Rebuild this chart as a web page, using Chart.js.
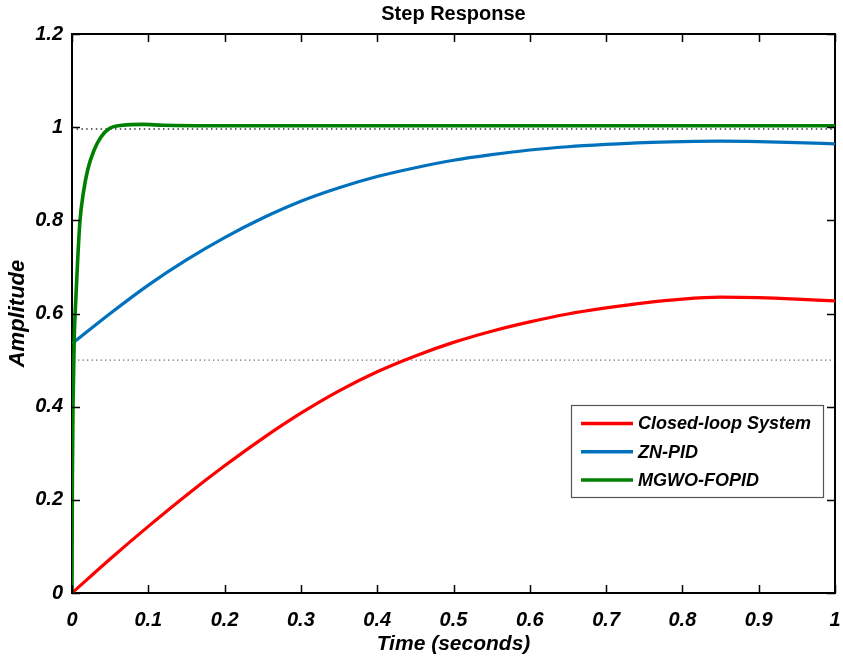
<!DOCTYPE html>
<html>
<head>
<meta charset="utf-8">
<title>Step Response</title>
<script src="https://cdn.jsdelivr.net/npm/chart.js@4.4.1/dist/chart.umd.min.js"></script>
<style>
  html, body { margin: 0; padding: 0; background: #ffffff; }
  #wrap { width: 843px; height: 659px; }
</style>
</head>
<body>
<div id="wrap"><canvas id="chart" width="843" height="659"></canvas></div>
<script>
// ---- data -------------------------------------------------------------
const seriesNames = ['Closed-loop System', 'ZN-PID', 'MGWO-FOPID'];

// Closed-loop system (no controller)
const tClosed = [0, 0.05, 0.1, 0.15, 0.2, 0.25, 0.3, 0.35, 0.4, 0.45, 0.5, 0.55, 0.6, 0.65, 0.7, 0.75, 0.8, 0.85, 0.9, 0.95, 1.0];
const yClosed = [0, 0.073, 0.143, 0.210, 0.273, 0.332, 0.386, 0.434, 0.475, 0.509, 0.538, 0.562, 0.582, 0.599, 0.612, 0.623, 0.631, 0.635, 0.634, 0.631, 0.627];

// Ziegler-Nichols PID
const tZN = [0, 0.05, 0.1, 0.15, 0.2, 0.25, 0.3, 0.35, 0.4, 0.45, 0.5, 0.55, 0.6, 0.65, 0.7, 0.75, 0.8, 0.85, 0.9, 0.95, 1.0];
const yZN = [0.535, 0.600, 0.661, 0.715, 0.763, 0.805, 0.841, 0.870, 0.894, 0.913, 0.929, 0.941, 0.951, 0.958, 0.963, 0.967, 0.969, 0.970, 0.969, 0.967, 0.964];

// MGWO-tuned fractional-order PID
const tFOPID = [0, 0.0005, 0.0015, 0.003, 0.0043, 0.0074, 0.0105, 0.0148, 0.0205, 0.029, 0.038, 0.049, 0.066, 0.093, 0.12, 0.2, 0.5, 1.0];
const yFOPID = [0, 0.25, 0.42, 0.55, 0.607, 0.714, 0.800, 0.858, 0.908, 0.951, 0.979, 0.997, 1.004, 1.006, 1.004, 1.003, 1.003, 1.003];

// dotted reference lines (final value and 50 % level)
const refFinalT = [0.006, 1.0];
const refFinalY = [0.996, 0.996];
const refHalfT = [0.008, 1.0];
const refHalfY = [0.5, 0.5];

// axis ticks
const xTicks = [0, 0.1, 0.2, 0.3, 0.4, 0.5, 0.6, 0.7, 0.8, 0.9, 1];
const xTickLabels = ['0', '0.1', '0.2', '0.3', '0.4', '0.5', '0.6', '0.7', '0.8', '0.9', '1'];
const yTicks = [0, 0.2, 0.4, 0.6, 0.8, 1, 1.2];
const yTickLabels = ['0', '0.2', '0.4', '0.6', '0.8', '1', '1.2'];

const seriesColors = ['#ff0000', '#0072bd', '#008000'];

// ---- helpers -------------------------------------------------------------
const FONT = "'Liberation Sans', Arial, sans-serif";
const toPoints = (ts, ys) => ts.map((t, i) => ({ x: t, y: ys[i] }));
const noPad = s => { s.paddingLeft = 0; s.paddingRight = 0; s.paddingTop = 0; s.paddingBottom = 0; };

// inward tick marks on all four sides of the box
const innerTicks = {
  id: 'innerTicks',
  afterDatasetsDraw(chart) {
    const { ctx, chartArea: a, scales: { x, y } } = chart;
    const len = 8;
    ctx.save();
    ctx.strokeStyle = '#000';
    ctx.lineWidth = 1.5;
    ctx.beginPath();
    xTicks.forEach(v => {
      const px = Math.round(x.getPixelForValue(v)) + 0.5;
      ctx.moveTo(px, a.bottom); ctx.lineTo(px, a.bottom - len);
      ctx.moveTo(px, a.top); ctx.lineTo(px, a.top + len);
    });
    yTicks.forEach(v => {
      const py = Math.round(y.getPixelForValue(v)) + 0.5;
      ctx.moveTo(a.left, py); ctx.lineTo(a.left + len, py);
      ctx.moveTo(a.right, py); ctx.lineTo(a.right - len, py);
    });
    ctx.stroke();
    ctx.restore();
  }
};

// boxed legend in the lower right of the axes
const boxLegend = {
  id: 'boxLegend',
  afterDraw(chart) {
    const { ctx, chartArea: a } = chart;
    const boxW = 252, boxH = 92;
    const left = a.right - 12 - boxW;
    const top = a.top + 371;
    ctx.save();
    ctx.fillStyle = '#ffffff';
    ctx.fillRect(left, top, boxW, boxH);
    ctx.strokeStyle = '#555555';
    ctx.lineWidth = 1.2;
    ctx.strokeRect(left + 0.5, top + 0.5, boxW, boxH);
    ctx.font = 'italic bold 18px ' + FONT;
    ctx.textBaseline = 'middle';
    ctx.textAlign = 'left';
    seriesNames.forEach((name, i) => {
      const ds = chart.data.datasets[i];
      const cy = top + 18.5 + i * 28.3;
      ctx.strokeStyle = ds.borderColor;
      ctx.lineWidth = 3.5;
      ctx.beginPath();
      ctx.moveTo(left + 10, cy);
      ctx.lineTo(left + 62, cy);
      ctx.stroke();
      ctx.fillStyle = '#000';
      ctx.fillText(name, left + 67, cy + 1);
    });
    ctx.restore();
  }
};

// ---- chart -----------------------------------------------------------------
new Chart(document.getElementById('chart'), {
  type: 'line',
  data: {
    datasets: [
      { label: seriesNames[0], data: toPoints(tClosed, yClosed), borderColor: seriesColors[0], borderWidth: 3.2, order: 3 },
      { label: seriesNames[1], data: toPoints(tZN, yZN), borderColor: seriesColors[1], borderWidth: 3.2, order: 2 },
      { label: seriesNames[2], data: toPoints(tFOPID, yFOPID), borderColor: seriesColors[2], borderWidth: 3.6, order: 1 },
      { label: 'final', data: toPoints(refFinalT, refFinalY), borderColor: '#333333', borderWidth: 1.6, borderDash: [1.5, 3.3], order: 5 },
      { label: 'half', data: toPoints(refHalfT, refHalfY), borderColor: '#333333', borderWidth: 1, borderDash: [1.2, 3.3], order: 5 }
    ]
  },
  options: {
    responsive: false,
    animation: false,
    devicePixelRatio: 1,
    layout: { padding: 0 },
    elements: {
      point: { radius: 0, hoverRadius: 0 },
      line: { cubicInterpolationMode: 'monotone', fill: false }
    },
    plugins: {
      legend: { display: false },
      tooltip: { enabled: false },
      title: { display: false }
    },
    scales: {
      x: {
        type: 'linear', position: 'bottom', min: 0, max: 1,
        afterBuildTicks: s => { s.ticks = xTicks.map(v => ({ value: v })); },
        afterFit: s => { s.height = 66; noPad(s); },
        grid: { display: false, drawTicks: false },
        border: { display: true, color: '#000', width: 2 },
        ticks: {
          padding: 15, color: '#000', maxRotation: 0, autoSkip: false,
          font: { family: FONT, size: 20, style: 'italic', weight: 'bold' },
          callback: (v, i) => xTickLabels[i]
        },
        title: {
          display: true, text: 'Time (seconds)', color: '#000',
          font: { family: FONT, size: 21, style: 'italic', weight: 'bold' },
          padding: { top: 0, bottom: 2 }
        }
      },
      xTop: {
        type: 'linear', position: 'top', min: 0, max: 1,
        afterFit: s => { s.height = 34; noPad(s); },
        grid: { display: false, drawTicks: false },
        border: { display: true, color: '#000', width: 2 },
        ticks: { display: false },
        title: {
          display: true, text: 'Step Response', color: '#000',
          font: { family: FONT, size: 20, weight: 'bold' },
          padding: { top: 2, bottom: 0 }
        }
      },
      y: {
        type: 'linear', position: 'left', min: 0, max: 1.2,
        afterBuildTicks: s => { s.ticks = yTicks.map(v => ({ value: v })); },
        afterFit: s => { s.width = 72; noPad(s); },
        grid: { display: false, drawTicks: false },
        border: { display: true, color: '#000', width: 2 },
        ticks: {
          padding: 9, color: '#000', autoSkip: false,
          font: { family: FONT, size: 20, style: 'italic', weight: 'bold' },
          callback: (v, i) => yTickLabels[i]
        },
        title: {
          display: true, text: 'Amplitude', color: '#000',
          font: { family: FONT, size: 22, style: 'italic', weight: 'bold' },
          padding: { top: 5, bottom: 0 }
        }
      },
      yRight: {
        type: 'linear', position: 'right', min: 0, max: 1.2,
        afterFit: s => { s.width = 8; noPad(s); },
        grid: { display: false, drawTicks: false },
        border: { display: true, color: '#000', width: 2 },
        ticks: { display: false }
      }
    }
  },
  plugins: [innerTicks, boxLegend]
});
</script>
</body>
</html>
